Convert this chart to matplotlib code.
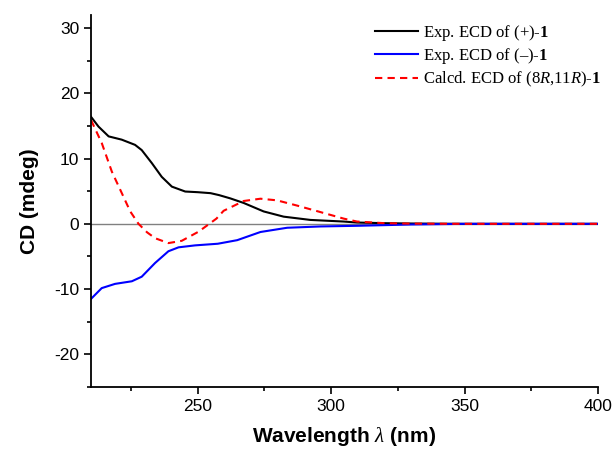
import numpy as np
import matplotlib.pyplot as plt
from matplotlib.ticker import MultipleLocator

# dados
WL_POS = [210, 212.8, 216.6, 221.5, 226.5, 229, 232.8, 236.5, 240.3, 245.3, 250, 254.8, 258, 262.2, 267.2,
          274.7, 282.2, 292.2, 304.7, 309.7, 320, 330, 350, 375, 400]
CD_POS = [16.4, 14.9, 13.4, 12.9, 12.1, 11.3, 9.3, 7.2, 5.7, 4.95, 4.85, 4.7, 4.4, 3.9, 3.2,
          1.9, 1.1, 0.6, 0.35, 0.2, 0.1, 0.05, 0.0, 0.0, 0.0]

WL_NEG = [210, 214, 219, 225.3, 229, 234, 239, 242.8, 249, 257.5, 264.8, 273.5, 283.5, 296, 309.7,
          320, 330, 350, 375, 400]
CD_NEG = [-11.5, -9.85, -9.2, -8.8, -8.1, -6.0, -4.2, -3.6, -3.3, -3.05, -2.5, -1.25, -0.6, -0.4, -0.3,
          -0.2, -0.1, 0.0, 0.0, 0.0]

WL_CALC = [210, 214, 217.8, 221.2, 224.7, 227.8, 231, 234, 239, 244, 250.3, 254, 257, 259.7, 267.2,
           273.5, 279.7, 287.2, 296, 304.7, 309.7, 320, 330, 350, 400]
CD_CALC = [15.9, 12.4, 8.0, 5.0, 1.9, 0.0, -1.3, -2.2, -2.95, -2.6, -1.2, -0.1, 0.8, 2.0, 3.5,
           3.85, 3.6, 2.8, 1.8, 0.8, 0.35, 0.1, 0.03, 0.0, 0.0]

plt.rcParams['mathtext.fontset'] = 'custom'
plt.rcParams['mathtext.rm'] = 'Liberation Serif'
plt.rcParams['mathtext.it'] = 'Liberation Serif:italic'
plt.rcParams['mathtext.bf'] = 'Liberation Serif:bold'
plt.rcParams['axes.unicode_minus'] = False

fig = plt.figure(figsize=(6.13, 4.53), dpi=100)
ax = fig.add_axes([0.1485, 0.1457, 0.8270, 0.8212])

ax.axhline(0, color='#808080', linewidth=1.0, zorder=1)
ax.plot(WL_POS, CD_POS, color='black', linewidth=1.5, label=r'Exp. ECD of (+)-$\mathbf{1}$')
ax.plot(WL_NEG, CD_NEG, color='#0000ff', linewidth=1.5, label='Exp. ECD of (\u2013)-$\\mathbf{1}$')
ax.plot(WL_CALC, CD_CALC, color='#ff0000', linewidth=1.5, linestyle=(0, (3.5, 2.5)),
        label=r'Calcd. ECD of (8$\mathit{R}$,11$\mathit{R}$)-$\mathbf{1}$')

ax.set_xlim(210, 400)
ax.set_ylim(-25, 32)
ax.xaxis.set_major_locator(MultipleLocator(50))
ax.xaxis.set_minor_locator(MultipleLocator(25))
ax.yaxis.set_major_locator(MultipleLocator(10))
ax.yaxis.set_minor_locator(MultipleLocator(5))
ax.set_xticks([250, 300, 350, 400])

for s in ['top', 'right']:
    ax.spines[s].set_visible(False)
for s in ['left', 'bottom']:
    ax.spines[s].set_linewidth(1.3)

ax.tick_params(which='major', direction='out', length=5, width=1.2,
               labelsize=12.5, labelfontfamily='Liberation Sans')
ax.tick_params(which='minor', direction='out', length=3, width=1.2)

ax.set_xlabel(r'Wavelength $\lambda$ (nm)', fontsize=15, fontweight='bold',
              family='Liberation Sans', labelpad=8)
ax.set_ylabel('CD (mdeg)', fontsize=15, fontweight='bold',
              family='Liberation Sans', labelpad=11)

leg = ax.legend(loc='upper right', bbox_to_anchor=(1.036, 1.02), frameon=False,
                prop={'family': 'Liberation Serif', 'size': 12},
                handlelength=2.6, handletextpad=0.3, labelspacing=0.22)

fig.savefig('out.png', dpi=100)
